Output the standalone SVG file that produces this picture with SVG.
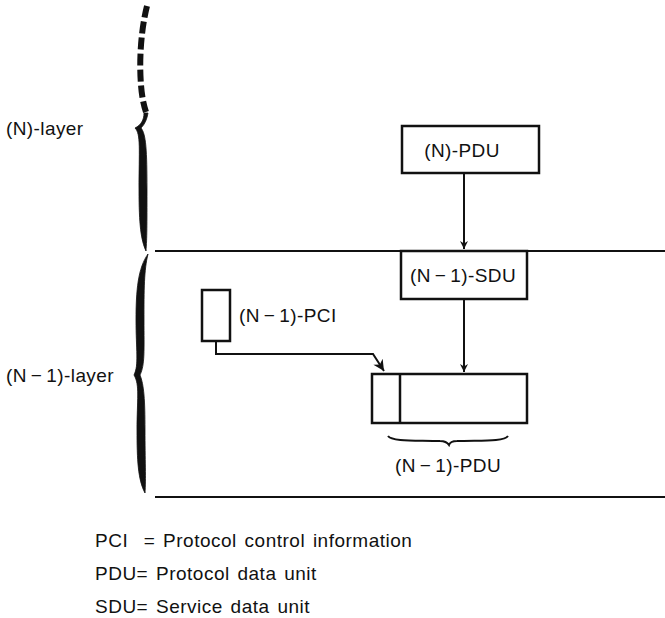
<svg xmlns="http://www.w3.org/2000/svg" width="665" height="618" viewBox="0 0 665 618">
<style>
text{font-family:"Liberation Sans",Arial,sans-serif;font-size:19px;fill:#111;letter-spacing:0.4px}
.lg{letter-spacing:0.5px;word-spacing:2px}
.box{fill:none;stroke:#111;stroke-width:2.5}
.ln{fill:none;stroke:#111;stroke-width:2}
.br{fill:#111;stroke:#111;stroke-width:0.8}
</style>
<defs>
<marker id="ah" viewBox="0 0 10 10" refX="10" refY="5" markerWidth="12" markerHeight="8" markerUnits="userSpaceOnUse" orient="auto"><path d="M0,0 L10,5 L0,10 L3,5 Z" fill="#111"/></marker>
<marker id="ah2" viewBox="0 0 10 10" refX="10" refY="5" markerWidth="14" markerHeight="11" markerUnits="userSpaceOnUse" orient="auto"><path d="M0,0 L10,5 L0,10 L3,5 Z" fill="#111"/></marker>
</defs>
<g id="layers">
<line class="ln" x1="155" y1="251" x2="665" y2="251"/>
<line class="ln" x1="155" y1="497" x2="665" y2="497"/>
<path d="M147,6 C141,30 139,60 141,85 C142,98 144,106 146,112" fill="none" stroke="#111" stroke-width="6" stroke-dasharray="12 4"/>
<path class="br" d="M144,113 C144,120 141,125 135,128 C141,134 139,150 139,190 C139,225 141,240 146,251 C147,238 147,225 147,190 C147,150 146,134 141,128 C145,124 147,119 148,113 Z"/>
<path class="br" d="M148,254 C138,268 136,290 136,320 C136,350 139,365 134,375 C140,385 137,400 137,430 C137,460 138,480 145,493 C146,480 145,460 145,430 C145,400 144,385 140,375 C145,365 144,350 144,320 C144,290 144,270 148,254 Z"/>
<text x="6" y="135">(N)-layer</text>
<text x="6" y="382">(N<tspan dx="4">−</tspan><tspan dx="4">1)-layer</tspan></text>
</g>
<g id="n-pdu">
<rect class="box" x="402" y="126" width="137" height="47"/>
<text x="462" y="157" text-anchor="middle">(N)-PDU</text>
</g>
<g id="n1-sdu">
<rect class="box" x="401" y="251" width="126" height="48"/>
<text x="410" y="282">(N<tspan dx="4">−</tspan><tspan dx="4">1)-SDU</tspan></text>
</g>
<g id="n1-pci">
<rect class="box" x="202" y="290" width="28" height="51"/>
<text x="239" y="322">(N<tspan dx="4">−</tspan><tspan dx="4">1)-PCI</tspan></text>
</g>
<g id="n1-pdu">
<rect class="box" x="372" y="374" width="155" height="49"/>
<line class="box" x1="400" y1="374" x2="400" y2="423"/>
<path class="ln" d="M388,436 C392,442 420,440 440,441 C445,441 447,442 449,445 C450,442 452,441 457,441 C477,440 504,442 508,436" stroke-width="3"/>
<text x="395" y="472">(N<tspan dx="4">−</tspan><tspan dx="4">1)-PDU</tspan></text>
</g>
<g id="connectors">
<line class="ln" x1="464" y1="174" x2="464" y2="249" marker-end="url(#ah)"/>
<line class="ln" x1="464" y1="300" x2="464" y2="372" marker-end="url(#ah)"/>
<path class="ln" d="M216,341 L216,354 L373,354 L384,371" marker-end="url(#ah2)"/>
</g>
<g id="legend">
<text class="lg" x="95" y="547" xml:space="preserve">PCI  = Protocol control information</text>
<text class="lg" x="95" y="580">PDU= Protocol data unit</text>
<text class="lg" x="95" y="613">SDU= Service data unit</text>
</g>
</svg>
